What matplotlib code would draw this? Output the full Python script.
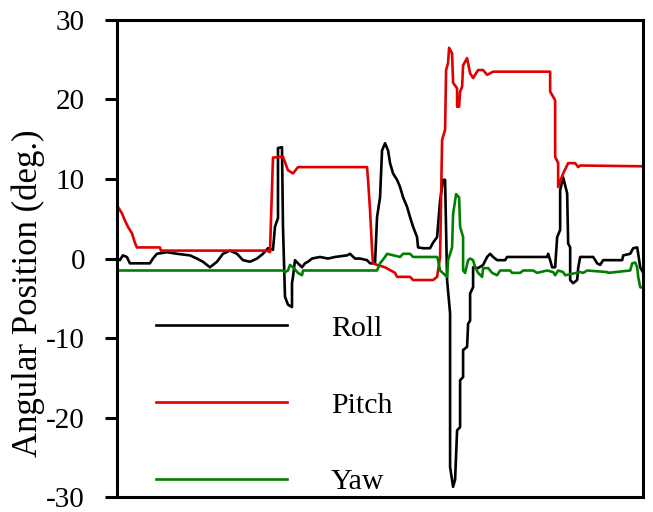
import matplotlib.pyplot as plt

# sample index (no x labels in the original) and angles in degrees
roll_t = [0, 3, 6, 10, 13, 33, 36, 40, 50, 60, 73, 80, 86, 93, 100, 106, 113, 120, 126, 133,
          140, 146, 151, 156, 158, 161, 161, 165, 166, 168, 171, 175, 175, 176, 178, 181, 185, 188,
          191, 195, 203, 211, 218, 230, 233, 238, 243, 250, 253, 258, 260, 263, 265, 268, 271, 273,
          276, 280, 283, 286, 290, 293, 296, 300, 301, 306, 313, 316, 320, 323, 326, 328, 330, 333,
          333, 336, 338, 340, 343, 343, 346, 346, 350, 351, 353, 353, 356, 356, 361, 366, 370, 373,
          376, 380, 388, 390, 430, 431, 433, 435, 438, 440, 443, 443, 446, 450, 451, 453, 453, 456,
          460, 461, 463, 470, 476, 480, 483, 486, 505, 506, 513, 516, 520, 521, 523, 526]
roll = [0.0, -0.2, 0.4, 0.2, -0.6, -0.6, 0.0, 0.6, 0.8, 0.6, 0.4, 0.0, -0.4, -1.1, -0.4, 0.6, 1.0, 0.6, -0.2, -0.4,
        0.0, 0.6, 1.3, 1.1, 4.0, 5.1, 13.9, 14.0, 4.0, -4.8, -5.8, -6.1, -3.1, -2.3, -0.2, -0.6, -1.1, -0.6,
        -0.4, 0.0, 0.2, 0.0, 0.2, 0.4, 0.6, 0.0, 0.0, -0.2, -0.6, -0.6, 5.2, 7.7, 13.6, 14.5, 13.6, 12.0,
        10.7, 9.9, 9.0, 7.7, 6.5, 5.2, 4.0, 2.7, 1.4, 1.3, 1.3, 2.0, 2.7, 7.3, 9.9, 9.9, -2.7, -6.9,
        -26.2, -28.7, -27.8, -21.6, -21.2, -15.3, -14.9, -11.5, -11.1, -8.2, -7.8, -4.4, -3.6, -1.1, -1.2, -0.8, 0.2, 0.6,
        0.2, -0.2, -0.2, 0.2, 0.2, 0.6, -0.2, -1.1, -1.1, 2.7, 3.6, 8.6, 10.2, 8.2, 1.9, 1.4, -2.7, -3.1,
        -2.7, -1.2, 0.2, 0.2, 0.2, -0.6, -0.8, -0.2, -0.2, 0.4, 0.6, 1.3, 1.4, 0.6, -1.1, -1.8]

pitch_t = [0, 1, 5, 8, 11, 15, 18, 20, 43, 44, 150, 153, 156, 166, 171, 176, 181, 250, 251, 253,
           255, 256, 260, 268, 278, 280, 293, 296, 316, 320, 323, 325, 328, 329, 331, 332, 335, 336,
           340, 340, 342, 343, 345, 346, 350, 353, 356, 361, 366, 370, 376, 433, 433, 438, 438, 441,
           441, 446, 451, 458, 461, 463, 526]
pitch = [7.3, 6.5, 5.7, 4.8, 4.0, 3.2, 2.0, 1.4, 1.4, 1.0, 1.0, 0.8, 12.7, 12.8, 11.1, 10.7, 11.5, 11.5, 9.9, 6.1,
         1.1, -0.6, -0.8, -1.1, -1.8, -2.3, -2.3, -2.7, -2.7, -2.3, 0.2, 14.9, 16.2, 23.7, 24.6, 26.5, 25.8, 22.1,
         21.4, 19.1, 19.1, 21.0, 21.6, 24.3, 25.2, 23.3, 22.7, 23.7, 23.7, 23.1, 23.5, 23.5, 21.0, 19.9, 12.8, 12.0,
         9.0, 10.7, 12.0, 12.0, 11.5, 11.7, 11.6]

yaw_t = [0, 166, 168, 171, 173, 176, 181, 185, 186, 260, 263, 268, 270, 283, 286, 293, 296, 320, 321, 323,
         330, 331, 335, 336, 339, 342, 343, 346, 346, 348, 351, 353, 356, 358, 361, 365, 366, 371, 375, 380,
         383, 393, 395, 403, 406, 416, 420, 430, 436, 438, 441, 446, 448, 463, 466, 470, 490, 491, 513, 515,
         518, 520, 521, 523, 526]
yaw = [-1.5, -1.5, -1.7, -1.5, -0.8, -1.1, -1.8, -2.1, -1.5, -1.5, -0.6, 0.2, 0.6, 0.2, 0.6, 0.6, 0.2, 0.2, -0.2, -1.5,
       -2.3, -0.2, 1.4, 5.6, 8.1, 7.7, 4.0, 2.7, -1.5, -1.8, -0.2, 0.0, -0.2, -1.1, -1.8, -2.3, -1.2, -1.2, -1.8, -2.1,
       -1.5, -1.5, -1.8, -1.8, -1.5, -1.5, -1.8, -1.5, -1.7, -2.1, -1.5, -1.7, -2.1, -1.7, -1.8, -1.5, -1.7, -1.8, -1.5, -0.6,
       -0.5, -1.1, -2.3, -3.6, -3.7]

y_ticks = [-30, -20, -10, 0, 10, 20, 30]

plt.rcParams['font.family'] = ['Liberation Serif', 'DejaVu Serif']
plt.rcParams['axes.unicode_minus'] = False

fig = plt.figure(figsize=(6.53, 5.12), dpi=100)
ax = fig.add_axes([0.179, 0.029, 0.806, 0.932])

ax.plot(roll_t, roll, color='black', lw=1.9, label='Roll')
ax.plot(pitch_t, pitch, color='#e00000', lw=1.9, label='Pitch')
ax.plot(yaw_t, yaw, color='#008000', lw=1.9, label='Yaw')

ax.set_xlim(0, 526)
ax.set_ylim(-30, 30)
ax.set_yticks(y_ticks)
ax.set_xticks([])
ax.tick_params(axis='y', direction='out', length=9, width=2.2, labelsize=21, pad=14)
for s in ax.spines.values():
    s.set_linewidth(2.2)

ax.set_ylabel('Angular Position (deg.)', fontsize=25)
ax.yaxis.set_label_coords(-0.137, 0.428)

ax.legend(loc='upper left', bbox_to_anchor=(0.074, 0.382), frameon=False, fontsize=21.5,
          handlelength=4.4, handletextpad=1.47, labelspacing=1.67, borderpad=0, borderaxespad=0)

fig.savefig('out.png', dpi=100)
